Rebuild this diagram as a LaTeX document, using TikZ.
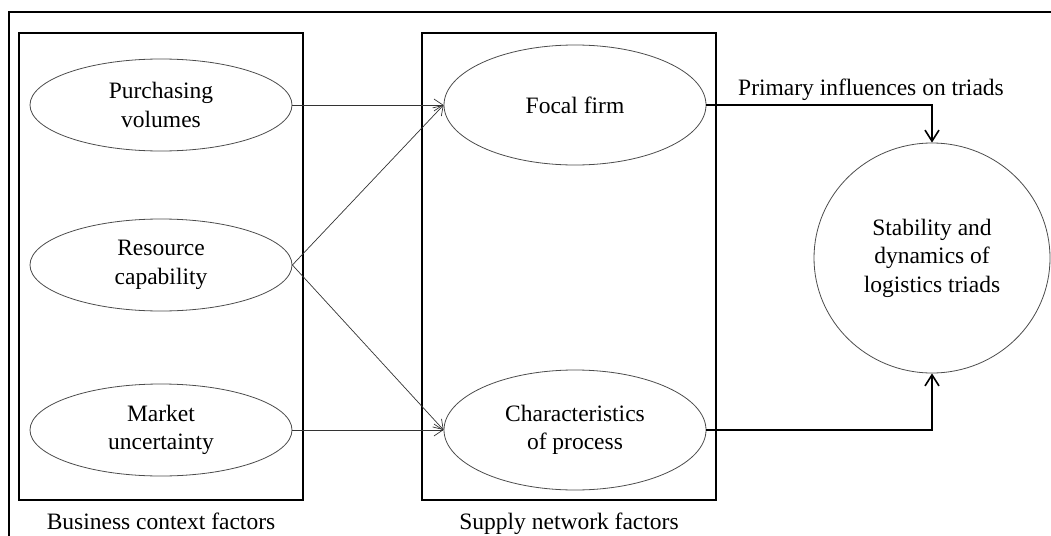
\documentclass[tikz,border=0pt]{standalone}
\usepackage{fontspec}
\setmainfont{Liberation Serif}
\usetikzlibrary{shapes.geometric, arrows.meta, positioning}

\begin{document}
\begin{tikzpicture}[x=1pt, y=1pt,
    font=\fontsize{23.5}{28.5}\selectfont,
    group/.style={draw, line width=2.7pt, minimum height=467pt, inner sep=0pt},
    grouplabel/.style={inner sep=0pt},
    factor/.style={draw=black!70, line width=0.8pt, ellipse, align=center,
        inner sep=0pt, minimum width=262pt, minimum height=92pt},
    link/.style={draw=black!80, line width=0.7pt,
        -{Straight Barb[length=9pt, width=12pt]}},
    influence/.style={line width=1.6pt,
        -{Straight Barb[length=11pt, width=14pt]}}]
    \useasboundingbox (0,0) rectangle (1051,-535);
    \clip (0,0) rectangle (1051,-535);

    % Outer frame
    \draw[line width=2.7pt] (9,-12) rectangle (1075,-560);

    % Factor groups
    \node[group, minimum width=284pt] (business) at (161,-266.5) {};
    \node[group, minimum width=294pt] (network) at (569,-266.5) {};
    \node[grouplabel, below=11pt of business] (businesslabel) {Business context factors};
    \node[grouplabel, below=11pt of network] (networklabel) {Supply network factors};

    % Business context factors
    \node[factor] (purchasing) at (161,-105) {Purchasing\\volumes};
    \node[factor] (resource) at (161,-265) {Resource\\capability};
    \node[factor] (market) at (161,-430) {Market\\uncertainty};

    % Supply network factors
    \node[factor, minimum height=120pt] (focal) at (575,-105) {Focal firm};
    \node[factor, minimum height=120pt] (process) at (575,-430) {Characteristics\\of process};

    % Outcome
    \node[factor, minimum width=236pt, minimum height=230pt] (triads) at (932,-258)
        {Stability and\\dynamics of\\logistics triads};
    \node (influences) at (871,-90) {Primary influences on triads};

    % Connectors
    \draw[link] (purchasing.east) -- (focal.west);
    \draw[link] (resource.east) -- (focal.west);
    \draw[link] (resource.east) -- (process.west);
    \draw[link] (market.east) -- (process.west);
    \draw[influence] (focal.east) -| (triads.north);
    \draw[influence] (process.east) -| (triads.south);
\end{tikzpicture}
\end{document}
